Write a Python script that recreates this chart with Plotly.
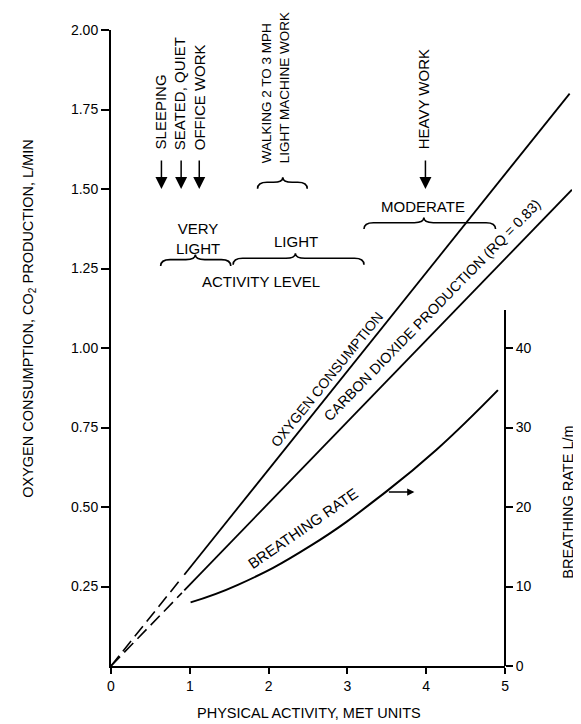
import plotly.graph_objects as go

# ---------------- data ----------------
met_ticks = [0, 1, 2, 3, 4, 5]
o2_tick_vals = [0.25, 0.50, 0.75, 1.00, 1.25, 1.50, 1.75, 2.00]
br_tick_vals = [0, 10, 20, 30, 40]

# oxygen consumption, L/min (dashed extrapolation + solid part)
o2_dash_met = [0.0, 0.90]
o2_dash = [0.0, 0.278]
o2_met = [0.93, 5.82]
o2 = [0.287, 1.80]

# carbon dioxide production, L/min (RQ = 0.83)
co2_dash_met = [0.0, 0.90]
co2_dash = [0.0, 0.230]
co2_met = [0.93, 5.85]
co2 = [0.238, 1.498]

# breathing rate, L/m (right axis)
br_met = [1.01, 1.61, 2.53, 3.50, 4.13, 4.91]
br_rate = [8.0, 10.2, 15.1, 22.0, 27.2, 34.7]

# activity annotations
act_labels = ["SLEEPING", "SEATED, QUIET<br>OFFICE WORK",
              "WALKING 2 TO 3 MPH<br>LIGHT MACHINE WORK", "HEAVY WORK"]
act_label_met = [0.64, 1.006, 2.09, 3.97]
act_label_base = [1.618, 1.615, 1.575, 1.618]
act_label_size = [15, 15, 13.5, 15]
arrow_met = [0.64, 0.89, 1.12, 3.99]
arrow_tip = [1.50, 1.50, 1.50, 1.50]

level_labels = ["VERY<br>LIGHT", "LIGHT", "MODERATE", "ACTIVITY LEVEL"]
level_met = [1.11, 2.35, 3.96, 1.90]
level_y = [1.345, 1.335, 1.445, 1.209]

# braces: start, tip, end (MET) and height (L/min)
brace_start = [0.63, 1.55, 3.21, 1.86]
brace_tip = [1.07, 2.34, 3.97, 2.18]
brace_end = [1.52, 3.21, 4.88, 2.49]
brace_y = [1.278, 1.282, 1.394, 1.521]

# curve labels: text, position (MET, L/min), angle, size
curve_labels = ["OXYGEN CONSUMPTION", "CARBON DIOXIDE PRODUCTION (RQ = 0.83)", "BREATHING RATE"]
curve_label_met = [2.74, 4.08, 2.43]
curve_label_y = [0.904, 1.118, 0.433]
curve_label_angle = [-51, -45.7, -34.6]
curve_label_size = [14, 14.3, 15]

FONT = "Liberation Sans, Arial, Helvetica, sans-serif"
INK = "#000000"
XMAX = 5.85
D = 5 / XMAX

fig = go.Figure()

common = dict(mode="lines", hoverinfo="skip", showlegend=False)
fig.add_trace(go.Scatter(x=o2_dash_met, y=o2_dash, xaxis="x", yaxis="y",
                         line=dict(color=INK, width=1.6, dash="13px,6px"), **common))
fig.add_trace(go.Scatter(x=co2_dash_met, y=co2_dash, xaxis="x", yaxis="y",
                         line=dict(color=INK, width=1.6, dash="13px,6px"), **common))
fig.add_trace(go.Scatter(x=o2_met, y=o2, xaxis="x2", yaxis="y",
                         line=dict(color=INK, width=1.8), **common))
fig.add_trace(go.Scatter(x=co2_met, y=co2, xaxis="x2", yaxis="y",
                         line=dict(color=INK, width=1.8), **common))
fig.add_trace(go.Scatter(x=br_met, y=br_rate, xaxis="x", yaxis="y2",
                         line=dict(color=INK, width=2, shape="spline", smoothing=1.3), **common))

tickfont = dict(family=FONT, size=14, color=INK)
txt = dict(family=FONT, size=15, color=INK)
ttl = dict(family=FONT, size=14.5, color=INK)

annotations = []
for lab, xm, yb, fs in zip(act_labels, act_label_met, act_label_base, act_label_size):
    annotations.append(dict(x=xm, y=yb, xref="x2", yref="y", text=lab, showarrow=False,
                            textangle=-90, xanchor="center", yanchor="bottom", align="left",
                            font=dict(family=FONT, size=fs, color=INK)))
for xm, yt in zip(arrow_met, arrow_tip):
    annotations.append(dict(x=xm, y=yt, xref="x2", yref="y", text="", showarrow=True,
                            ax=0, ay=-30, arrowhead=2, arrowsize=1.6, arrowwidth=1.5,
                            arrowcolor=INK, standoff=0))
for lab, xm, ym in zip(level_labels, level_met, level_y):
    annotations.append(dict(x=xm, y=ym, xref="x2", yref="y", text=lab, showarrow=False,
                            xanchor="center", yanchor="middle", align="center", font=txt))
for lab, xm, ym, ang, fs in zip(curve_labels, curve_label_met, curve_label_y,
                                curve_label_angle, curve_label_size):
    annotations.append(dict(x=xm, y=ym, xref="x2", yref="y", text=lab, showarrow=False,
                            textangle=ang, xanchor="center", yanchor="middle",
                            font=dict(family=FONT, size=fs, color=INK)))
annotations.append(dict(x=3.85, y=0.547, xref="x2", yref="y", text="", showarrow=True,
                        ax=-27, ay=0, arrowhead=2, arrowsize=0.9, arrowwidth=1.6,
                        arrowcolor=INK, standoff=0))
# axis titles (paper coordinates)
annotations.append(dict(x=-0.1785, y=0.547, xref="paper", yref="paper",
                        text="OXYGEN CONSUMPTION, CO<sub>2</sub> PRODUCTION, L/MIN",
                        showarrow=False, textangle=-90, xanchor="center", yanchor="middle",
                        font=ttl))
annotations.append(dict(x=0.991, y=0.258, xref="paper", yref="paper",
                        text="BREATHING RATE L/m",
                        showarrow=False, textangle=-90, xanchor="center", yanchor="middle",
                        font=ttl))
annotations.append(dict(x=0.430, y=-0.0739, xref="paper", yref="paper",
                        text="PHYSICAL ACTIVITY, MET UNITS",
                        showarrow=False, xanchor="center", yanchor="middle", font=ttl))


def brace_path(x0, xm, x1, y, d=0.02, t=0.016, r=0.12):
    return (f"M {x0},{y - d} Q {x0},{y} {x0 + r},{y} L {xm - r},{y} "
            f"Q {xm},{y} {xm},{y + t} Q {xm},{y} {xm + r},{y} "
            f"L {x1 - r},{y} Q {x1},{y} {x1},{y - d}")


shapes = []
for x0, xm, x1, yb in zip(brace_start, brace_tip, brace_end, brace_y):
    shapes.append(dict(type="path", path=brace_path(x0, xm, x1, yb), xref="x2", yref="y",
                       line=dict(color=INK, width=1.6)))

fig.update_layout(
    width=573, height=716,
    margin=dict(l=103, r=5, t=22, b=58),
    paper_bgcolor="white", plot_bgcolor="rgba(0,0,0,0)",
    showlegend=False,
    xaxis=dict(domain=[0, D], range=[0, 5], anchor="y", showline=True, linewidth=2,
               linecolor=INK, ticks="outside", ticklen=6, tickwidth=1.5, tickcolor=INK,
               tickvals=met_ticks, ticktext=[str(v) for v in met_ticks], tickfont=tickfont,
               showgrid=False, zeroline=False, fixedrange=True),
    xaxis2=dict(domain=[0, 1], range=[0, XMAX], anchor="y", visible=False,
                showgrid=False, zeroline=False),
    yaxis=dict(domain=[0, 1], range=[0, 2.0], anchor="x", showline=True, linewidth=2,
               linecolor=INK, ticks="outside", ticklen=8, tickwidth=1.5, tickcolor=INK,
               tickvals=o2_tick_vals, ticktext=[f"{v:.2f}" for v in o2_tick_vals],
               tickfont=tickfont, showgrid=False, zeroline=False),
    yaxis2=dict(domain=[0, 44.8 / 80], range=[0, 44.8], anchor="free", position=D,
                side="right", showline=True, linewidth=1.8, linecolor=INK,
                ticks="outside", ticklen=7, tickwidth=1.5, tickcolor=INK,
                tickvals=br_tick_vals, ticktext=[str(v) for v in br_tick_vals],
                tickfont=tickfont, showgrid=False, zeroline=False),
    annotations=annotations,
    shapes=shapes,
)

fig.write_html("out.html")
